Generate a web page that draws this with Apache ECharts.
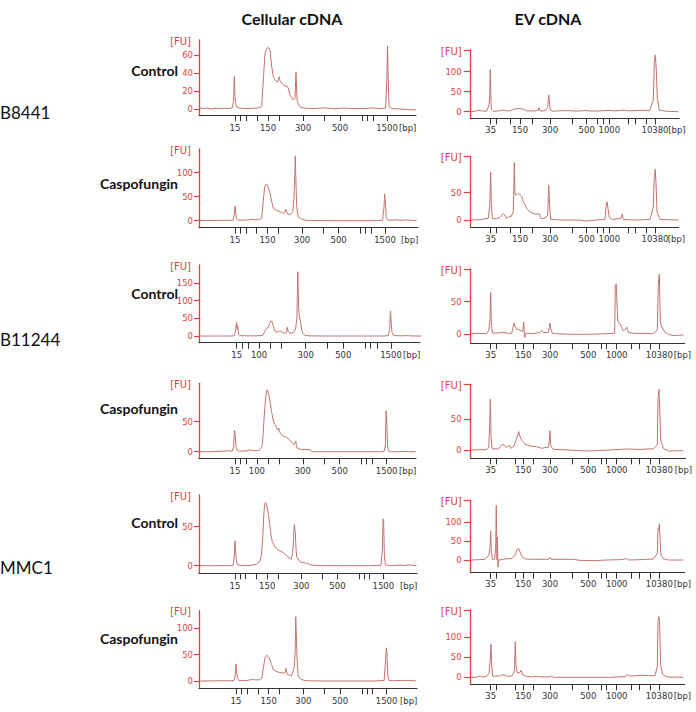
<!DOCTYPE html>
<html><head><meta charset="utf-8">
<script src="https://cdn.jsdelivr.net/npm/echarts@6/dist/echarts.min.js"></script>
<style>html,body{margin:0;padding:0;background:#fff}#c{width:696px;height:712px}</style>
</head><body><div id="c"></div>
<script>
// ---------- ladders / tick labels ----------
const cellLadderBp = [15,25,50,100,150,200,300,400,500,700,850,1000,1500];
const cellLadderPos = [36,41,47,58,69,80,104,125,141,163,168,174,188];
const cellLabelsA = [15,150,300,500,1500];
const cellLabelsB = [15,100,300,500,1500];
const evLadderBp = [35,50,100,150,200,300,400,500,600,700,1000,2000,3000,7000,10380];
const evLadderPosA = [20,25.3,39.3,49.3,61.3,79.3,102,116,127,132.6,138.6,157.6,164.3,176,184.3];
const evLadderPosB = [20,25.3,44.3,52.6,62.6,79.3,102,117.6,130.3,136,146,161,168.6,179.3,188.6];
const evLabels = [35,150,300,500,1000,10380];
const fuTicks60 = [0,20,40,60];
const fuTicks100 = [0,50,100];
const fuTicks150 = [0,50,100,150];
const fuTicks50 = [0,50];

// ---------- traces: [migration position, FU] ----------
const cellB8441Ctrl = [[0,1.5],[4,0.5],[8,1],[12,0],[16,0.8],[20,0.3],[25,0.8],[30,0.5],[33.5,1.5],[34.6,10],[35.3,36],[36,14],[36.8,6],[38,1.5],[42,0.8],[48,0.5],[54,0.8],[60,1.2],[62.7,2.6],[64.3,32],[66,62],[67.7,67],[69.3,68.5],[71,65],[72.7,47],[74.3,36],[76,32],[78.3,30],[79.5,33],[80.3,36],[81,31],[82,30],[84.3,27],[87,25],[88.7,25],[91,15.5],[94.3,10],[96,12],[97,40.7],[97.7,18],[98.3,8],[101,2],[105,1],[115,0.5],[125,1.2],[135,0.3],[145,1],[155,0.5],[165,0.5],[174,1.2],[180,0.3],[186.5,1],[187.8,30],[188.5,70],[189.2,35],[190,3],[193,0.5],[200,0],[208,-0.5],[214,-1],[217,-0.8]];
const cellB8441Casp = [[0,0.5],[15,0.5],[30,0.8],[34,1],[35.2,12],[36,30.5],[36.7,18],[37.5,5],[39,1.5],[45,1],[50,2],[52,3],[55,2.5],[58,2],[61,3],[63,5],[64.7,43],[66.1,71],[67.4,76],[68.7,74],[70.1,65],[71.5,57],[73.2,40],[74.8,26],[78.2,21],[81.6,19],[85,15],[86.5,17],[87.7,24],[89,14],[91.7,12],[94.5,19],[95.8,50],[96.6,100],[97.1,135],[97.6,92],[98.5,29],[100.1,8],[103.6,3],[108.7,0.7],[120,0.3],[140,0],[160,0],[180,0.2],[185.5,1],[187,30],[187.6,55.5],[188.3,40],[189.2,8],[190.5,1.5],[195,1],[200,1.8],[205,0.8],[210,1.5],[215,0.8],[220,0.5]];
const cellB11244Ctrl = [[0,0],[10,0],[20,0],[30,0],[33.5,0.5],[35,14],[35.7,38],[36.3,20],[37,30],[37.8,5],[39,1],[45,0.5],[55,0.5],[60,1],[62,3],[63.9,15],[65.5,20],[67.1,25],[68.5,35],[69.8,43],[71,40],[72.1,28],[73.7,13],[75.5,11],[77,12],[78.5,14],[79.6,13],[81,10],[82.6,9],[84,7],[84.8,10],[85.8,25],[86.8,12],[88.5,8],[90.5,9],[91.8,10],[93,14],[94.1,22],[95.3,50],[96.2,182],[96.9,90],[97.7,55],[99,40],[100,18],[101,8],[103.3,2],[107,0.5],[120,0],[140,0],[160,0],[180,0],[185.5,1],[186.7,20],[187.5,71],[188.2,40],[189,10],[190,3],[192,1],[198,0.5],[204,1],[205,2],[206,0.5],[212,0],[220,0]];
const cellB11244Casp = [[0,0],[10,0],[20,0.5],[27,1],[29.3,2],[31,1],[33.5,1],[34.7,8],[35.5,36],[36.2,30],[37,10],[38,3],[40,1],[45,1],[49,2],[51,3.5],[53,2],[57,1.5],[61,3],[63.3,10],[64.3,30],[65,50],[66,75],[67,92],[67.8,102],[68.5,103],[69.5,98],[70.5,92],[71.5,80],[72.7,67],[74,55],[75,48],[76.5,45],[77.7,40],[79,36],[80,39],[80.7,33],[81.7,31],[83,28],[84.3,26],[86,25],[87.7,24],[89.5,22],[91,19],[92.7,16],[94.5,13],[95.3,12],[96.3,15],[97,18],[97.6,10],[98.3,6],[100,5],[103,3.5],[106,4],[109,3.5],[111,3.5],[112.7,1],[115,0],[130,0],[150,0],[170,0],[182,0],[185.5,0.5],[186.7,10],[187.5,68],[188.2,45],[189,8],[190,1],[193,0],[200,0],[205,0.5],[210,0],[217,0]];
const cellMMC1Ctrl = [[0,0],[15,0],[30,0],[34,0.5],[35.2,12],[36,32],[36.6,20],[37.3,8],[38.5,1],[45,0],[52,0.5],[58.2,2],[61.6,6],[63.2,15],[64.4,35],[65.5,65],[66.4,79],[67.3,81],[68,80],[70.1,67],[71.9,50],[73,38],[74.2,31],[77,24],[80.4,20],[83.9,18],[87.2,15],[90,11.5],[93.4,8],[95,15],[96,35],[96.8,53],[97.8,41],[98.6,20],[99.2,11.5],[102.6,5],[109.5,3],[116.2,0.5],[125,0],[150,0],[175,0],[185.5,0.5],[187,20],[187.7,60],[188.3,58],[189,15],[190,1],[195,0],[200,0.5],[205,0.8],[210,0.3],[214,1],[218,0.5],[222,0]];
const cellMMC1Casp = [[0,0],[15,0.3],[30,0.5],[34,1],[35.2,10],[36,32],[36.7,18],[37.5,5],[39,1],[45,0.5],[50,2],[53,3],[56,2],[60,2.5],[62,5],[63.6,24],[65.3,44],[67,49],[68.6,46],[70.3,40],[72,31],[73.7,21],[77.1,18],[80.4,16],[84.5,15],[85.8,18],[86.5,24],[87.5,13],[92.2,10],[94.9,27],[95.8,60],[96.3,122],[96.9,88],[97.6,44],[98.9,8],[102.3,2.5],[107.4,0.5],[120,0],[150,0],[175,0],[185.5,1],[187,40],[187.7,63],[188.3,53],[189.2,10],[190.5,1],[195,0.5],[200,1],[205,0.5],[210,1.2],[215,0.5],[218,0]];
const evB8441Ctrl = [[0,0],[4,1],[7.6,4],[11,2],[16,1],[18.3,17],[19,37],[19.6,106],[20,46],[20.6,6],[22.6,1],[28,2],[32.6,4],[36,2],[39.3,2],[42.6,6],[46,7.5],[49.5,7.5],[52.6,6.5],[56,2],[64.3,2],[67.5,4],[68.3,10],[69.3,2],[74.3,2],[77,12],[78,42],[78.6,29],[79.6,4],[82.6,1],[88,2],[92.6,2.5],[99.3,2.5],[105,1.5],[116,3],[120,1.5],[130,2],[137.6,3],[145,2],[152.6,4],[158,2],[166,3],[172,3.5],[179,3],[182.6,29],[183.6,122],[184.6,142],[185.6,104],[186.6,33],[188.6,4],[196,1],[207.6,0]];
const evB8441Casp = [[0,0],[10,0.5],[14.3,2.4],[17.6,3],[19,27],[20,88],[20.6,33],[21.6,2.4],[26,2.4],[29.3,5],[32.6,12],[34.3,9],[36,3],[38.6,7],[40.3,6],[42.6,15],[43.6,105],[44.3,46],[46,46],[47.6,49],[49.3,46],[51,43],[52.6,33.5],[56,21],[59.3,15],[64.3,11],[68.6,11],[70,3],[74.3,3],[77,9],[78,64],[79,24],[80,1.2],[89.3,0],[109,0],[114.3,-2],[120,-1],[126,0],[134.3,1],[135.3,24],[136.3,33.5],[137.3,21],[138.6,5],[141,1],[150.3,3],[151.6,11],[152.6,1],[166,0],[179.3,1],[182.6,24],[183.6,79],[184.6,93],[185.3,67],[186.3,15],[189.3,1],[208,0]];
const evB11244Ctrl = [[0,1.5],[8,1.2],[16,1],[18.3,6.6],[19.3,24.5],[20,64],[20.6,19],[21.6,2],[27,2],[32.6,3],[37,1.5],[41,1.5],[43.3,17],[44.3,12],[46,8],[49.3,6.6],[52,4],[53,19],[53.6,4],[54.3,-5],[55.3,1.5],[62.6,1],[69.3,3],[71,6],[72.6,2.5],[77.6,3],[79.3,17],[80.3,6.6],[82,1],[99.3,0],[120,0],[144,1.5],[144.6,75.5],[145.6,76.5],[146.3,45],[147.3,19],[149.3,16],[152.6,5],[155,8],[156,11],[157.6,3],[162.6,1.5],[182.6,1],[186.6,6.6],[187.6,78],[188.6,92],[189.6,19],[191,12],[194.3,3],[197.6,0],[202.6,-2],[208,-1.5],[212.6,-1]];
const evB11244Casp = [[0,0],[8,0.5],[16,0.5],[18,4],[19,38],[19.6,83],[20.3,24.5],[21.3,2],[27.6,1.6],[31,8],[33.3,8.7],[36,4],[38.3,8],[40,2.7],[43.3,6.5],[46,19],[48,30],[49.3,21.7],[51,16],[54.3,9.8],[59.3,6.5],[66,5.4],[71,2.7],[74.3,4],[77.6,3.8],[78.6,16],[79.3,31.5],[80,6.5],[82.6,1],[99.3,0],[109.3,-1],[116,-1.6],[126,-1],[139.3,0],[149.3,1],[156.6,1.6],[169.3,1],[182.6,2],[186.6,8],[187.3,84],[188.3,99],[189,68],[190,16],[192.6,2.7],[197.6,-1.6],[212.6,-1]];
const evMMC1Ctrl = [[0,0],[8,0.8],[14.3,1.8],[18.3,13],[19.3,35],[20,77],[20.6,26],[21.6,1.8],[24,1.8],[25,35],[25.6,145],[26.3,0],[26.6,61],[27.3,-19],[28,0],[32.6,1.8],[36,3.5],[41,3.5],[44.3,13],[46.6,29],[48,31],[49.3,22],[51.3,9],[54.3,2.6],[62.6,1.8],[78,2],[79.3,7],[80.3,1.8],[89.3,1.8],[102.6,1.8],[109.3,-1],[122.6,-1.8],[136,0],[150,1],[156,3.5],[157.6,0],[169.3,0.8],[176,1.8],[182.6,2.6],[186.6,17.5],[187.3,83],[188,79],[188.6,96],[189.3,57],[190.3,13],[192.6,3.5],[197.6,0],[212.6,0]];
const evMMC1Casp = [[0,0],[6,0.5],[9.3,3.3],[11,0.5],[16,2.5],[18.3,10],[19.3,35],[20.3,82.5],[21,31],[22,2.5],[29.3,3.3],[31,5.8],[34.3,5.8],[36.6,2.5],[41,3.3],[43.6,14],[44.6,89],[45.3,31],[46.6,10],[49.3,12.5],[50.6,18],[52,5.8],[56,2.5],[61,0.8],[64.3,2.5],[71,0.8],[79,1],[81,3.3],[82.6,0],[116,0],[140,0],[155,1.7],[156.6,7.5],[158.6,3.3],[162.6,3.3],[169.3,5],[179.3,4],[184.3,4],[186.6,27],[187.3,139],[188.3,152],[189,122],[190,31],[192,7.5],[196,0.8],[212.6,0]];

// ---------- text ----------
const colTitles = ['Cellular cDNA','EV cDNA'];
const strains = ['B8441','B11244','MMC1'];
const conditions = ['Control','Caspofungin','Control','Caspofungin','Control','Caspofungin'];

// ---------- panel definitions ----------
const panels = [
  {data:cellB8441Ctrl, bp:cellLadderBp, pos:cellLadderPos, labels:cellLabelsA, yTicks:fuTicks60, side:'L'},
  {data:cellB8441Casp, bp:cellLadderBp, pos:cellLadderPos, labels:cellLabelsA, yTicks:fuTicks100, side:'L'},
  {data:cellB11244Ctrl, bp:cellLadderBp, pos:cellLadderPos, labels:cellLabelsB, yTicks:fuTicks150, side:'L'},
  {data:cellB11244Casp, bp:cellLadderBp, pos:cellLadderPos, labels:cellLabelsB, yTicks:fuTicks50, side:'L'},
  {data:cellMMC1Ctrl, bp:cellLadderBp, pos:cellLadderPos, labels:cellLabelsA, yTicks:fuTicks50, side:'L'},
  {data:cellMMC1Casp, bp:cellLadderBp, pos:cellLadderPos, labels:cellLabelsA, yTicks:fuTicks100, side:'L'},
  {data:evB8441Ctrl, bp:evLadderBp, pos:evLadderPosA, labels:evLabels, yTicks:fuTicks100, side:'R'},
  {data:evB8441Casp, bp:evLadderBp, pos:evLadderPosA, labels:evLabels, yTicks:fuTicks50, side:'R'},
  {data:evB11244Ctrl, bp:evLadderBp, pos:evLadderPosB, labels:evLabels, yTicks:fuTicks50, side:'R'},
  {data:evB11244Casp, bp:evLadderBp, pos:evLadderPosB, labels:evLabels, yTicks:fuTicks50, side:'R'},
  {data:evMMC1Ctrl, bp:evLadderBp, pos:evLadderPosB, labels:evLabels, yTicks:fuTicks100, side:'R'},
  {data:evMMC1Casp, bp:evLadderBp, pos:evLadderPosB, labels:evLabels, yTicks:fuTicks100, side:'R'}
];
// layout (pixels): axis origin, extent, zero line, px per FU, axis length, x offset/scale
const layouts = [
  {left:199, top:40, bottom:115, zero:109, k:0.9, len:217, a:0, s:1},
  {left:199, top:149, bottom:227.7, zero:220.7, k:0.48, len:219, a:0.47, s:0.987},
  {left:199, top:265, bottom:342.7, zero:336, k:0.353, len:221, a:1.16, s:1.015},
  {left:199, top:383.3, bottom:458.3, zero:451.7, k:0.6, len:217, a:0, s:0.998},
  {left:199, top:495, bottom:573.3, zero:565.7, k:0.78, len:218, a:0.86, s:0.976},
  {left:199, top:610.7, bottom:688.3, zero:681, k:0.527, len:218, a:1.3, s:0.991},
  {left:470.7, top:50, bottom:118.3, zero:111.7, k:0.4, len:208.5, a:0, s:1},
  {left:470.7, top:156.7, bottom:227.3, zero:220, k:0.547, len:208, a:0, s:1},
  {left:470.7, top:269, bottom:343.3, zero:334.3, k:0.653, len:214, a:0, s:1},
  {left:470.7, top:384.3, bottom:458.3, zero:450, k:0.613, len:215, a:0, s:1},
  {left:470.7, top:500.7, bottom:572.7, zero:560, k:0.377, len:214, a:0, s:1},
  {left:470.7, top:610, bottom:684.3, zero:677.3, k:0.4, len:214, a:0, s:1}
];

const RED = '#e3423b', TRACE = '#c27472', DARK = '#333333';
const TICKFONT = 'DejaVu Sans';

const grids = [], xAxes = [], yAxes = [], series = [];
panels.forEach((p, i) => {
  const L = layouts[i];
  const isL = p.side === 'L';
  const yMin = -(L.bottom - L.zero) / L.k;
  const yMax = (L.zero - L.top) / L.k;
  const xMin = -L.a / L.s;
  const xMax = xMin + L.len / L.s;
  grids.push({left:L.left, top:L.top, width:L.len, height:L.bottom - L.top, containLabel:false, outerBoundsMode:'none'});
  const labelPos = p.labels.map(b => p.pos[p.bp.indexOf(b)]);
  const pos = p.pos, bp = p.bp;
  xAxes.push({
    type:'value', gridIndex:i, min:xMin, max:xMax,
    splitLine:{show:false},
    axisLine:{show:true, onZero:false, lineStyle:{color:DARK, width:1}},
    axisTick:{show:true, customValues:pos, length:6, lineStyle:{color:DARK, width:1}},
    axisLabel:{show:true, customValues:labelPos, hideOverlap:false, margin:isL?8:7, color:DARK, fontSize:8.5, fontFamily:TICKFONT,
      formatter: v => { let b = 0; pos.forEach((q, j) => { if (Math.abs(q - v) < Math.abs(pos[b] - v)) b = j; }); return String(bp[b]); }},
    name:'[bp]', nameLocation:'end', nameGap:isL?-17:-11, nameMoveOverlap:false,
    nameTextStyle:{color:DARK, fontSize:8.5, fontFamily:TICKFONT, align:'left', verticalAlign:'top', padding:[isL?8:7,0,0,0]}
  });
  yAxes.push({
    type:'value', gridIndex:i, min:yMin, max:yMax,
    splitLine:{show:false},
    axisLine:{show:true, onZero:false, lineStyle:{color:RED, width:1.3}},
    axisTick:{show:true, customValues:isL ? p.yTicks : p.yTicks.concat([yMax]), length:isL?5:7, lineStyle:{color:RED, width:1.2}},
    axisLabel:{show:true, customValues:p.yTicks, margin:isL?6:9, color:RED, fontSize:8.5, fontFamily:TICKFONT},
    name:'[FU]', nameLocation:'end', nameGap:-1,
    nameTextStyle:{color:RED, fontSize:10, fontFamily:TICKFONT, align:'right', verticalAlign:'middle', padding:[0,isL?8:9,0,0]}
  });
  series.push({
    type:'line', xAxisIndex:i, yAxisIndex:i, data:p.data, showSymbol:false, symbol:'none',
    lineStyle:{color:TRACE, width:1}, silent:true, animation:false
  });
});

const graphic = [];
graphic.push({type:'text', x:292, y:18, style:{text:colTitles[0], font:'bold 16px Lato', fill:'#111', textAlign:'center', textVerticalAlign:'middle'}});
graphic.push({type:'text', x:548, y:18, style:{text:colTitles[1], font:'bold 16px Lato', fill:'#111', textAlign:'center', textVerticalAlign:'middle'}});
const condY = [70,183,293,408,522,638];
conditions.forEach((c, i) => graphic.push({type:'text', x:178, y:condY[i], style:{text:c, font:'bold 14px Lato', fill:'#111', textAlign:'right', textVerticalAlign:'middle'}}));
const strainY = [112,339,567];
strains.forEach((s, i) => graphic.push({type:'text', x:0, y:strainY[i], style:{text:s, font:'17px Lato', fill:'#111', textAlign:'left', textVerticalAlign:'middle'}}));

const chart = echarts.init(document.getElementById('c'), null, {renderer:'svg'});
chart.setOption({
  animation:false, backgroundColor:'#ffffff',
  grid:grids, xAxis:xAxes, yAxis:yAxes, series:series, graphic:graphic
});
</script></body></html>
